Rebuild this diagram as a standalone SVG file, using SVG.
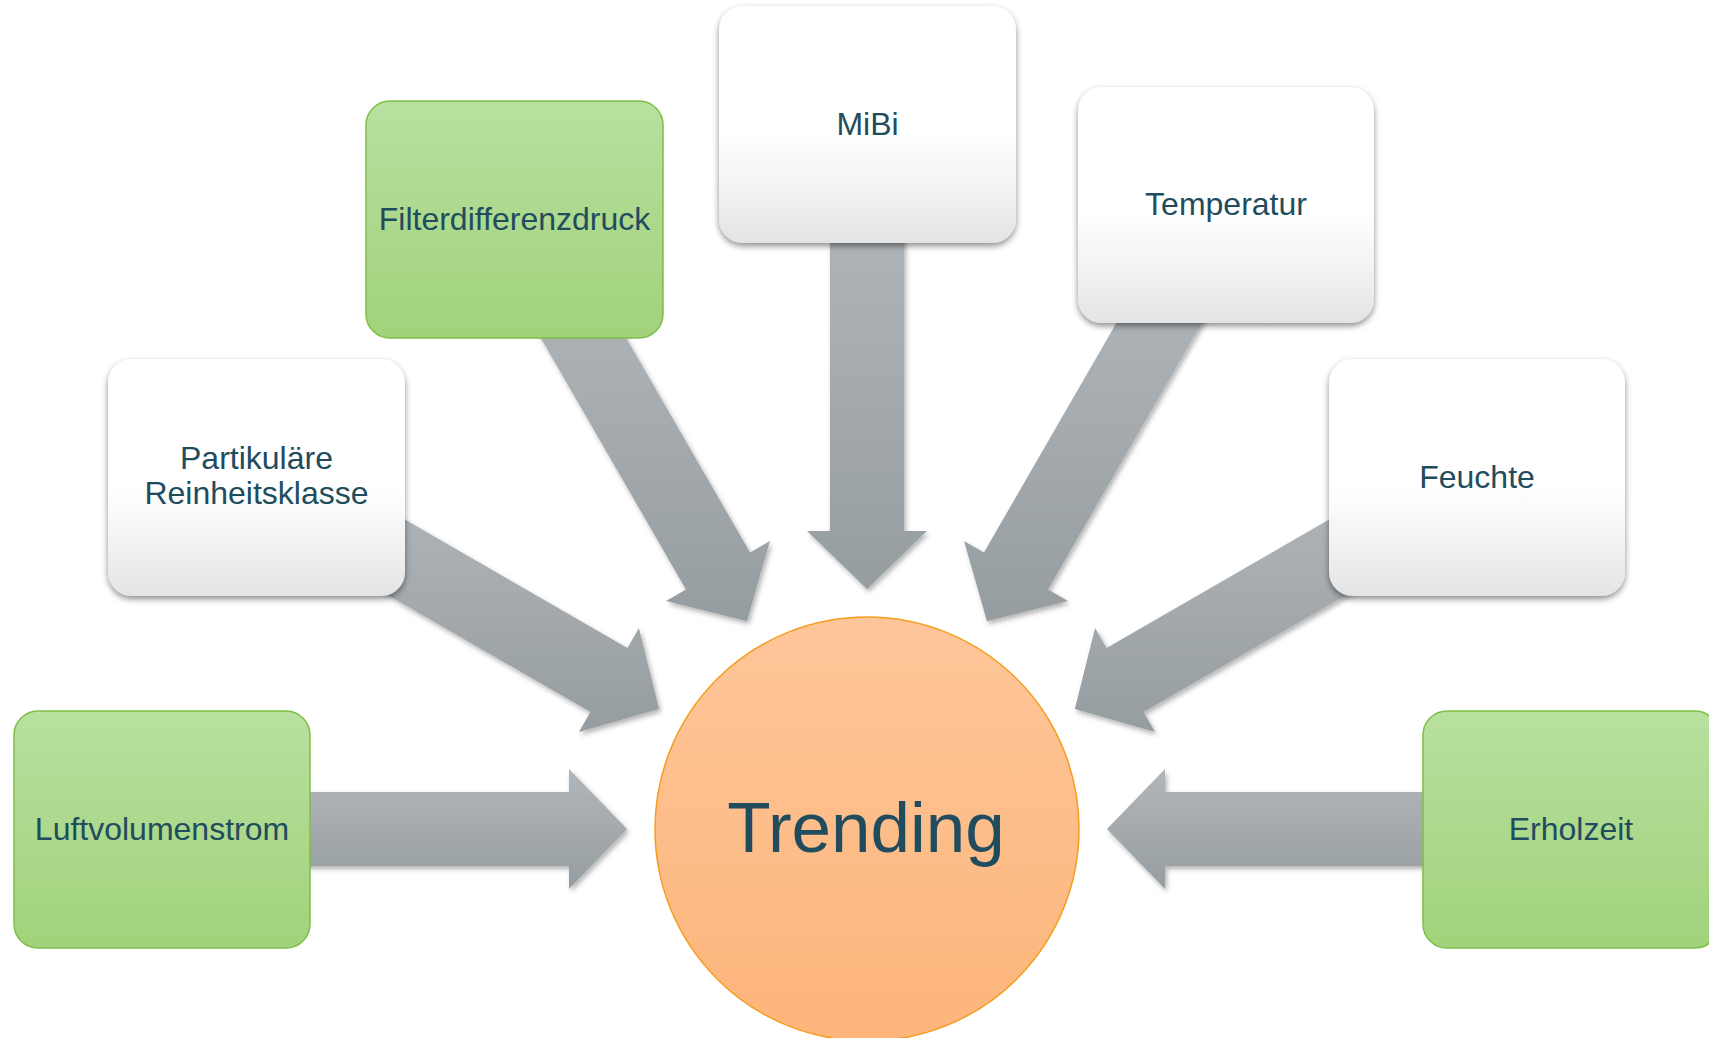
<svg xmlns="http://www.w3.org/2000/svg" width="1709" height="1038" viewBox="0 0 1709 1038">
  <style>
    .lbl { font-family: "Liberation Sans", Arial, sans-serif; font-size: 32px; fill: #214C5E; text-anchor: middle; }
    .big { font-family: "Liberation Sans", Arial, sans-serif; font-size: 71px; fill: #214C5E; text-anchor: middle; }
    .green { fill: url(#gGreen); stroke: #7FBF45; stroke-width: 1.5; }
    .white { fill: url(#gWhite); filter: url(#shBox); }
    .arrow { fill: url(#gArrow); filter: url(#shArrow); }
  </style>
  <defs>
    <linearGradient id="gGreen" x1="0" y1="0" x2="0" y2="1">
      <stop offset="0" stop-color="#B8E09F"/>
      <stop offset="1" stop-color="#A1D27B"/>
    </linearGradient>
    <linearGradient id="gWhite" x1="0" y1="0" x2="0" y2="1">
      <stop offset="0" stop-color="#FFFFFF"/>
      <stop offset="0.55" stop-color="#FFFFFF"/>
      <stop offset="1" stop-color="#E4E4E4"/>
    </linearGradient>
    <linearGradient id="gArrow" x1="0" y1="0" x2="0" y2="1">
      <stop offset="0" stop-color="#B1B6BA"/>
      <stop offset="1" stop-color="#969DA1"/>
    </linearGradient>
    <linearGradient id="gCircle" x1="0" y1="0" x2="0" y2="1">
      <stop offset="0" stop-color="#FDC69A"/>
      <stop offset="1" stop-color="#FDB57A"/>
    </linearGradient>
    <filter id="shBox" x="-10%" y="-10%" width="120%" height="125%">
      <feDropShadow dx="0" dy="3" stdDeviation="3" flood-color="#000" flood-opacity="0.45"/>
    </filter>
    <filter id="shArrow" x="-10%" y="-10%" width="125%" height="125%">
      <feDropShadow dx="2" dy="3" stdDeviation="2.5" flood-color="#000" flood-opacity="0.3"/>
    </filter>
  </defs>
  <rect width="1709" height="1038" fill="#FFFFFF"/>

  <g id="connectors">
    <polygon class="arrow" points="227,866 569,866 569,889 627,829 569,769 569,792 227,792"/>
    <polygon class="arrow" points="294.24,541.04 590.43,712.04 578.93,731.96 659.15,709 638.93,628.04 627.43,647.96 331.24,476.96"/>
    <polygon class="arrow" points="514.96,293.24 685.96,589.43 666.04,600.93 747,621.15 769.96,540.93 750.04,552.43 579.04,256.24"/>
    <polygon class="arrow" points="830,189 830,531 807,531 867,589 927,531 904,531 904,189"/>
    <polygon class="arrow" points="1154.96,256.24 983.96,552.43 964.04,540.93 987,621.15 1067.96,600.93 1048.04,589.43 1219.04,293.24"/>
    <polygon class="arrow" points="1402.76,476.96 1106.57,647.96 1095.07,628.04 1074.85,709 1155.07,731.96 1143.57,712.04 1439.76,541.04"/>
    <polygon class="arrow" points="1507,792 1165,792 1165,769 1107,829 1165,889 1165,866 1507,866"/>
  </g>

  <g id="trending">
    <circle cx="867" cy="829" r="212" fill="url(#gCircle)" stroke="#F59D1F" stroke-width="1.5"/>
    <text class="big" x="866" y="852">Trending</text>
  </g>

  <g id="luftvolumenstrom">
    <rect class="green" x="14" y="711" width="296" height="237" rx="24"/>
    <text class="lbl" x="162" y="840">Luftvolumenstrom</text>
  </g>

  <g id="partikulaere">
    <rect class="white" x="108" y="359" width="297" height="237" rx="24"/>
    <text class="lbl" x="256.5" y="469">Partikuläre</text>
    <text class="lbl" x="256.5" y="504">Reinheitsklasse</text>
  </g>

  <g id="filterdifferenzdruck">
    <rect class="green" x="366" y="101" width="297" height="237" rx="24"/>
    <text class="lbl" x="514.5" y="230">Filterdifferenzdruck</text>
  </g>

  <g id="mibi">
    <rect class="white" x="719" y="6" width="297" height="237" rx="24"/>
    <text class="lbl" x="867.5" y="135">MiBi</text>
  </g>

  <g id="temperatur">
    <rect class="white" x="1078" y="87" width="296" height="236" rx="24"/>
    <text class="lbl" x="1226" y="215">Temperatur</text>
  </g>

  <g id="feuchte">
    <rect class="white" x="1329" y="359" width="296" height="237" rx="24"/>
    <text class="lbl" x="1477" y="488">Feuchte</text>
  </g>

  <g id="erholzeit">
    <rect class="green" x="1423" y="711" width="296" height="237" rx="24"/>
    <text class="lbl" x="1571" y="840">Erholzeit</text>
  </g>
</svg>
